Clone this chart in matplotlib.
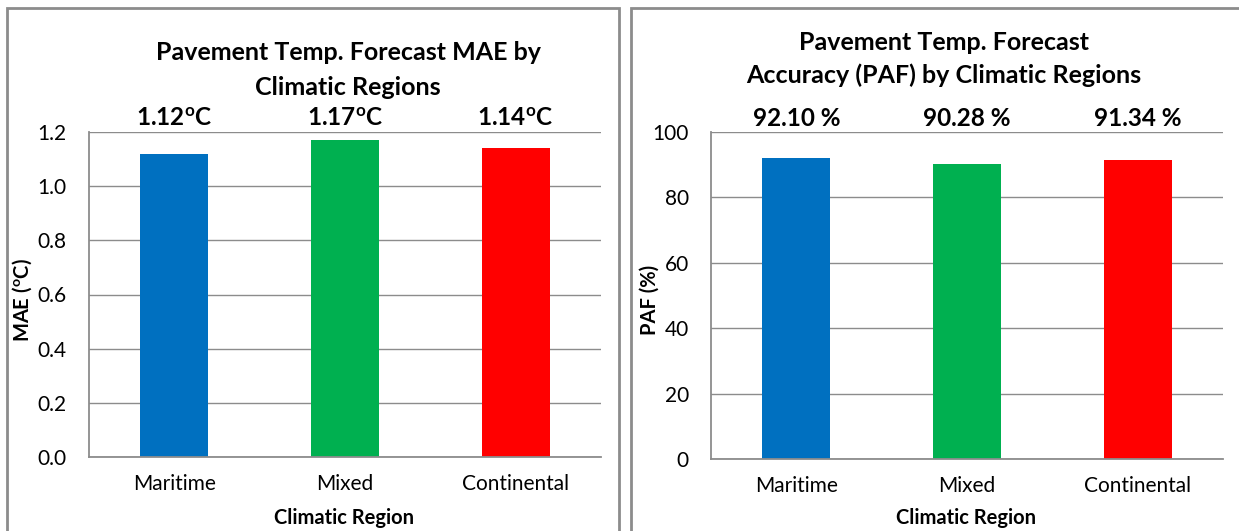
import numpy as np
import matplotlib.pyplot as plt
from matplotlib.patches import Rectangle
import matplotlib.transforms as mtransforms

plt.rcParams['font.family'] = ['Lato', 'DejaVu Sans']
plt.rcParams['mathtext.fontset'] = 'custom'
plt.rcParams['mathtext.rm'] = 'Lato'
plt.rcParams['mathtext.bf'] = 'Lato:bold'

# values per climatic region
regions = ['Maritime', 'Mixed', 'Continental']
mae = [1.12, 1.17, 1.14]
paf = [92.10, 90.28, 91.34]
mae_labels = ['1.12$^{\\mathbf{o}}$C', '1.17$^{\\mathbf{o}}$C', '1.14$^{\\mathbf{o}}$C']
paf_labels = ['92.10 %', '90.28 %', '91.34 %']
colors = ['#0070C0', '#00B050', '#FF0000']

W, H = 1239, 531
fig = plt.figure(figsize=(W / 100, H / 100), dpi=100)

def px(x0, y0, x1, y1):
    # pixel box -> figure fraction [left, bottom, width, height]
    return [x0 / W, 1 - y1 / H, (x1 - x0) / W, (y1 - y0) / H]

# chart frames
for x0, x1 in [(7, 619), (631, 1260)]:
    fig.patches.append(Rectangle((x0 / W, -0.1), (x1 - x0) / W, 1.1 - 8 / H,
                                 transform=fig.transFigure, fill=False,
                                 edgecolor='#8c8c8c', lw=2))

grid_c = '#8c8c8c'

def style(ax, ticks, fmt):
    ax.set_yticks(ticks)
    ax.set_yticklabels([fmt % t for t in ticks], fontsize=15)
    ax.yaxis.grid(True, color=grid_c, lw=1)
    ax.set_axisbelow(True)
    for s in ['top', 'right']:
        ax.spines[s].set_visible(False)
    ax.spines['left'].set_color(grid_c)
    ax.spines['bottom'].set_color(grid_c)
    ax.spines['left'].set_linewidth(1.3)
    ax.spines['bottom'].set_linewidth(1.3)
    ax.tick_params(axis='y', length=0, pad=16)
    ax.tick_params(axis='x', length=0, labelsize=15, pad=12)
    ax.set_xlim(-0.5, 2.5)

x = np.arange(len(regions))

# MAE panel
ax1 = fig.add_axes(px(89, 132, 601, 457))
ax1.bar(x, mae, width=0.4, color=colors)
ax1.set_ylim(0, 1.2)
style(ax1, np.arange(0, 1.21, 0.2), '%.1f')
ax1.set_xticks(x)
ax1.set_xticklabels(regions)
tr1 = mtransforms.blended_transform_factory(ax1.transData, ax1.transAxes)
for i, lab in enumerate(mae_labels):
    ax1.text(x[i], 1.04, lab, transform=tr1, ha='center', va='center',
             fontsize=17.5, fontweight='bold')
fig.text(348 / W, 1 - 70 / H, 'Pavement Temp. Forecast MAE by\nClimatic Regions',
         ha='center', va='center', fontsize=18, fontweight='bold', linespacing=1.6)
fig.text(22 / W, 1 - 300 / H, 'MAE ($^{\\mathbf{o}}$C)', rotation=90, ha='center',
         va='center', fontsize=14.5, fontweight='bold')
fig.text(344 / W, 1 - 518 / H, 'Climatic Region', ha='center', va='center',
         fontsize=14.5, fontweight='bold')

# PAF panel
ax2 = fig.add_axes(px(711, 132, 1223, 459))
ax2.bar(x, paf, width=0.4, color=colors)
ax2.set_ylim(0, 100)
style(ax2, np.arange(0, 101, 20), '%d')
ax2.set_xticks(x)
ax2.set_xticklabels(regions)
tr2 = mtransforms.blended_transform_factory(ax2.transData, ax2.transAxes)
for i, lab in enumerate(paf_labels):
    ax2.text(x[i], 1.04, lab, transform=tr2, ha='center', va='center',
             fontsize=17.5, fontweight='bold')
fig.text(944 / W, 1 - 59 / H, 'Pavement Temp. Forecast\nAccuracy (PAF) by Climatic Regions',
         ha='center', va='center', fontsize=18, fontweight='bold', linespacing=1.45)
fig.text(650 / W, 1 - 300 / H, 'PAF (%)', rotation=90, ha='center', va='center',
         fontsize=14.5, fontweight='bold')
fig.text(966 / W, 1 - 518 / H, 'Climatic Region', ha='center', va='center',
         fontsize=14.5, fontweight='bold')

fig.savefig('out.png', dpi=100)
